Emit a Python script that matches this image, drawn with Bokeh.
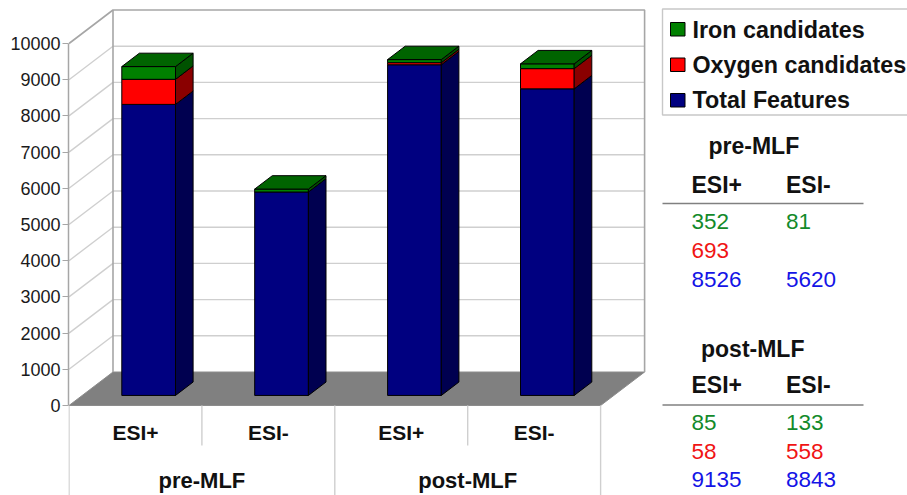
from bokeh.plotting import figure
from bokeh.models import Range1d, SingleIntervalTicker, ColumnDataSource
from bokeh.core.properties import value
from bokeh.embed import file_html
from bokeh.resources import INLINE

# Samples along the category axis
groups = ["pre-MLF", "post-MLF"]
modes = ["ESI+", "ESI-", "ESI+", "ESI-"]

# Stacked bar heights. The first and last blue bars stand below
# the Total Features figures printed in the side table.
total_features = [8040, 5620, 9135, 8470]
oxygen = [693, 0, 58, 558]
iron = [352, 81, 85, 133]

# Side table contents
table_titles = ["pre-MLF", "post-MLF"]
table_iron = [["352", "81"], ["85", "133"]]
table_oxygen = [["693", ""], ["58", "558"]]
table_total = [["8526", "5620"], ["9135", "8843"]]

legend_labels = ["Iron candidates", "Oxygen candidates", "Total Features"]

FONT = value("Liberation Sans")
W, H = 907, 495
LEFT = 68
Y0_PX = 405.0
PX_PER_UNIT = 0.0362

def yv(px):
    """Convert a page row to a value on the y scale."""
    return (Y0_PX - px) / PX_PER_UNIT

p = figure(width=W, height=H, output_backend="svg", toolbar_location=None,
           x_range=Range1d(LEFT, W), y_range=Range1d(yv(H), yv(0)),
           min_border_left=LEFT, min_border_right=0, min_border_top=0, min_border_bottom=0,
           x_axis_location=None)
p.outline_line_color = None
p.background_fill_color = "white"
p.grid.visible = False

axis = p.yaxis[0]
axis.ticker = SingleIntervalTicker(interval=1000)
axis.bounds = (0, 10000)
axis.axis_line_color = "#a6a6a6"
axis.axis_line_width = 1.5
axis.major_tick_line_color = "#a6a6a6"
axis.major_tick_out = 6
axis.major_tick_in = 0
axis.minor_tick_line_color = None
axis.major_label_text_font = "Liberation Sans"
axis.major_label_text_font_size = "18px"
axis.major_label_text_color = "#1a1a1a"
axis.major_label_standoff = 2
axis.formatter.use_scientific = False

# 3D box geometry
FRONT_X = 68.5
CAT_W = 132.9
BAR_W = 53.7
DEPTH_X = 44.0
DEPTH_V = 33.5 / PX_PER_UNIT
BAR_D0 = 0.30
BAR_D1 = 0.70
YMAX = 10000
WALL = "#a6a6a6"
GRID = "#cfcfcf"
RIGHT_X = FRONT_X + CAT_W * 4

# Floor
p.patch([FRONT_X, RIGHT_X, RIGHT_X + DEPTH_X, FRONT_X + DEPTH_X],
        [0, 0, DEPTH_V, DEPTH_V], fill_color="#808080", line_color="#8c8c8c", line_width=1)

# Gridlines on the back and side walls
levels = list(range(1000, YMAX, 1000))
p.multi_line([[FRONT_X + DEPTH_X, RIGHT_X + DEPTH_X] for _ in levels],
             [[v + DEPTH_V, v + DEPTH_V] for v in levels], line_color=GRID, line_width=1.4)
p.multi_line([[FRONT_X, FRONT_X + DEPTH_X] for _ in levels],
             [[v, v + DEPTH_V] for v in levels], line_color=GRID, line_width=1.4)

# Wall edges
p.line([FRONT_X, FRONT_X + DEPTH_X, RIGHT_X + DEPTH_X, RIGHT_X + DEPTH_X],
       [YMAX, YMAX + DEPTH_V, YMAX + DEPTH_V, DEPTH_V], line_color=WALL, line_width=1.6)
p.line([FRONT_X + DEPTH_X, FRONT_X + DEPTH_X], [DEPTH_V, YMAX + DEPTH_V],
       line_color=WALL, line_width=1.6)

# Category separators under the floor
for i in (0, 2, 4):
    x = FRONT_X + CAT_W * i
    p.line([x, x], [0, yv(H)], line_color=GRID, line_width=1.4)
for i in (1, 3):
    x = FRONT_X + CAT_W * i
    p.line([x, x], [0, yv(445)], line_color=GRID, line_width=1.4)

# Stacked 3D bars
SERIES = [
    (total_features, "#000080", "#000050"),
    (oxygen, "#ff0000", "#8a0000"),
    (iron, "#008000", "#005200"),
]
TOP_COLOR = "#006400"
dxa, dxb = DEPTH_X * BAR_D0, DEPTH_X * BAR_D1
dva, dvb = DEPTH_V * BAR_D0, DEPTH_V * BAR_D1

xs, ys, fills = [], [], []
for i in range(len(modes)):
    gap = (CAT_W - BAR_W) / 2
    x0 = FRONT_X + CAT_W * i + gap + dxa
    x1 = x0 + BAR_W
    x2 = x1 + (dxb - dxa)
    base = 0.0
    for values, front, side in SERIES:
        h = values[i]
        if h <= 0:
            continue
        # front face
        xs.append([x0, x1, x1, x0])
        ys.append([base + dva, base + dva, base + h + dva, base + h + dva])
        fills.append(front)
        # side face
        xs.append([x1, x2, x2, x1])
        ys.append([base + dva, base + dvb, base + h + dvb, base + h + dva])
        fills.append(side)
        base += h
    # lid of the stack
    xs.append([x0, x1, x2, x0 + (dxb - dxa)])
    ys.append([base + dva, base + dva, base + dvb, base + dvb])
    fills.append(TOP_COLOR)

p.patches("xs", "ys", fill_color="fills", line_color="black", line_width=1,
          source=ColumnDataSource(dict(xs=xs, ys=ys, fills=fills)))

def label(x, py, text, size, bold=False, color="#111111", align="left"):
    # py is the row of the text's foot; the renderer sets type a little lower
    p.text([x], [yv(py - 0.31 * size)], text=[text], text_font=FONT, text_font_size=f"{size}px",
           text_font_style="bold" if bold else "normal", text_color=color,
           text_align=align, text_baseline="alphabetic")

# Category labels
for i, m in enumerate(modes):
    label(FRONT_X + CAT_W * (i + 0.5), 439, m, 21, bold=True, align="center")
for i, g in enumerate(groups):
    label(FRONT_X + CAT_W * (2 * i + 1), 487, g, 22, bold=True, align="center")

# Legend
p.quad(left=[662], right=[W + 5], top=[yv(8.5)], bottom=[yv(114.5)],
       fill_color="white", line_color="#c8c8c8", line_width=1.4)
swatches = ["#008000", "#ff0000", "#000080"]
swatch_rows = [22, 57.5, 93]
text_rows = [37, 72, 107]
for name, color, sy, ty in zip(legend_labels, swatches, swatch_rows, text_rows):
    p.quad(left=[670], right=[684.5], top=[yv(sy)], bottom=[yv(sy + 13.5)],
           fill_color=color, line_color="black", line_width=1)
    label(692, ty, name, 23.3, bold=True)

# Side table
COLS = [691, 785.5]
table_layout = [
    dict(title_x=708, title=153, head=191.5, rule=203, rows=(228, 257, 285.5)),
    dict(title_x=700.5, title=356, head=391.5, rule=404.5, rows=(429, 458, 486)),
]
for t, lay in enumerate(table_layout):
    label(lay["title_x"], lay["title"], table_titles[t], 23, bold=True)
    for c, x in enumerate(COLS):
        label(x, lay["head"], modes[c], 23, bold=True)
        label(x, lay["rows"][0], table_iron[t][c], 22.5, color="#138a2a")
        label(x, lay["rows"][1], table_oxygen[t][c], 22.5, color="#f01414")
        label(x, lay["rows"][2], table_total[t][c], 22.5, color="#1414e6")
    p.line([662, 863], [yv(lay["rule"]), yv(lay["rule"])], line_color="#808080", line_width=1.4)

open("out.html", "w").write(file_html(p, INLINE))
